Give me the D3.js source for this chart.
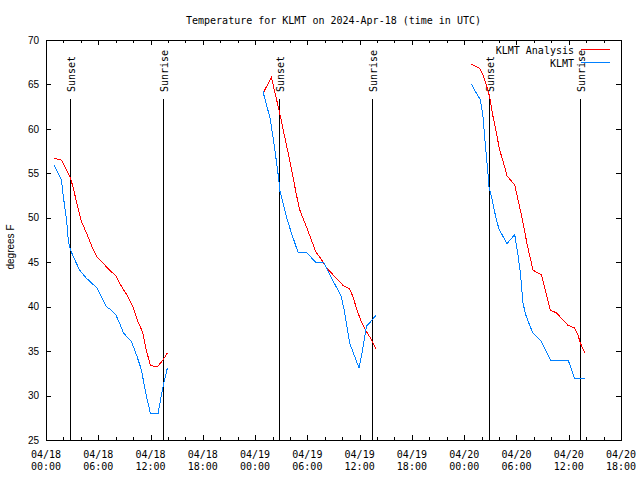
<!DOCTYPE html>
<html>
<head>
<meta charset="utf-8">
<script src="https://cdn.jsdelivr.net/npm/d3@7"></script>
<style>
  body { margin: 0; background: #fff; }
  svg { display: block; }
  .mono { font-family: "DejaVu Sans Mono", "Liberation Mono", monospace; font-size: 10px; }
  .sans { font-family: "Liberation Sans", Arial, sans-serif; font-size: 10px; }
</style>
</head>
<body>
<div id="container"></div>
<script>
var W = 640, H = 480,
    margin = {top: 40, right: 19, bottom: 40, left: 46},
    t0 = Date.UTC(2024, 3, 18, 0, 0),
    spanHours = 66;

/* observation times are hours after 2024-04-18 00:00 UTC, temps in F */
var analysisNight1 = [[0.88,56.7],[1.77,56.5],[2.75,54.6],[3.10,53.5],[3.45,52.0],[4.06,49.6],[4.64,48.3],
  [5.21,46.9],[5.85,45.6],[6.54,44.9],[7.31,44.1],[8.00,43.5],[8.65,42.3],[9.30,41.3],[9.99,40.0],
  [10.56,38.3],[11.07,37.2],[11.52,35.1],[11.98,33.4],[12.74,33.2],[13.43,34.0],[13.93,34.8]];
var obsNight1 = [[0.88,56.0],[1.77,54.3],[1.97,52.5],[2.26,50.5],[2.41,49.2],[2.57,47.3],[2.80,46.4],
  [3.29,45.3],[3.87,44.1],[4.64,43.2],[5.85,42.1],[6.36,41.1],[6.93,40.0],[7.51,39.6],[8.00,39.1],
  [8.46,38.1],[8.92,37.0],[9.80,36.1],[10.38,34.6],[10.95,32.9],[11.44,30.3],[11.98,28.0],
  [12.86,28.0],[13.43,31.0],[13.93,33.1]];
var analysisNight2 = [[24.91,64.0],[25.87,65.8],[26.82,61.8],[27.40,59.1],[27.97,56.5],[28.35,54.6],
  [28.74,52.6],[29.12,50.9],[29.89,49.0],[30.46,47.5],[30.96,46.2],[31.61,45.3],[32.25,44.3],
  [33.33,43.2],[34.09,42.4],[34.86,42.0],[35.24,41.1],[35.70,39.6],[36.20,38.3],[36.78,37.2],
  [37.35,36.3],[37.92,35.2]];
var obsNight2 = [[24.91,64.2],[25.30,62.7],[25.68,61.4],[26.06,59.1],[26.37,56.9],[26.71,54.4],
  [26.82,53.1],[27.13,52.0],[27.59,50.1],[28.17,48.3],[28.93,46.1],[29.89,46.1],[30.96,45.0],
  [31.87,45.0],[32.56,43.6],[33.33,42.2],[33.91,41.1],[34.29,39.3],[34.86,35.9],[35.43,34.4],
  [35.93,33.1],[36.20,34.4],[36.78,37.8],[37.35,38.4],[37.92,39.1]];
var analysisNight3 = [[48.83,67.3],[49.78,66.8],[50.16,66.1],[50.55,64.9],[50.93,63.6],[51.31,61.4],
  [51.70,59.5],[52.08,57.6],[52.54,56.1],[52.92,54.7],[53.80,53.7],[54.18,52.0],[54.68,49.8],
  [55.21,47.1],[55.60,45.4],[55.90,44.1],[56.86,43.6],[57.44,41.3],[57.90,39.6],[58.59,39.3],
  [59.34,38.5],[59.92,37.9],[60.68,37.6],[61.06,36.8],[61.34,35.9],[61.83,34.8]];
var obsNight3 = [[48.83,65.1],[49.40,64.0],[49.86,63.3],[50.16,61.4],[50.35,59.1],[50.55,56.9],
  [50.73,55.0],[50.85,53.5],[51.22,52.0],[51.62,50.1],[52.00,48.7],[52.46,47.9],[52.92,47.1],
  [53.80,48.1],[54.18,45.8],[54.45,43.8],[54.75,40.4],[55.06,39.1],[55.52,37.9],[55.90,37.0],
  [56.86,36.1],[57.44,34.9],[57.90,34.0],[59.92,34.0],[60.28,33.1],[60.68,31.9],[61.92,31.9]];

var sunsetHours = [2.77, 26.78, 50.85],
    sunriseHours = [13.45, 37.42, 61.35];
var yTicks = [25, 30, 35, 40, 45, 50, 55, 60, 65, 70];
var seriesNames = ['KLMT Analysis', 'KLMT'],
    seriesColors = ['#ff0000', '#0080ff'];

var toDate = h => new Date(t0 + h * 3600e3);

var svg = d3.select('#container').append('svg')
    .attr('width', W).attr('height', H);

var xScale = d3.scaleUtc()
    .domain([toDate(0), toDate(spanHours)])
    .range([margin.left, W - margin.right]);
var yScale = d3.scaleLinear()
    .domain([25, 70])
    .range([H - margin.bottom, margin.top]);

var x0 = margin.left, x1 = W - margin.right, y0 = margin.top, y1 = H - margin.bottom;

/* axes: ticks point inward, mirrored on top and right */
function cleanAxis(g) {
  g.select('.domain').remove();
  g.selectAll('line').attr('stroke', '#000').attr('shape-rendering', 'crispEdges');
}
svg.append('g').attr('transform', `translate(0,${y1})`)
  .call(d3.axisBottom(xScale).ticks(d3.utcHour.every(2)).tickSize(-3).tickFormat(''))
  .call(cleanAxis);
svg.append('g').attr('transform', `translate(0,${y1})`)
  .call(d3.axisBottom(xScale).ticks(d3.utcHour.every(6)).tickSize(-5).tickFormat(''))
  .call(cleanAxis);
svg.append('g').attr('transform', `translate(0,${y0})`)
  .call(d3.axisTop(xScale).ticks(d3.utcHour.every(2)).tickSize(-3).tickFormat(''))
  .call(cleanAxis);
svg.append('g').attr('transform', `translate(0,${y0})`)
  .call(d3.axisTop(xScale).ticks(d3.utcHour.every(6)).tickSize(-5).tickFormat(''))
  .call(cleanAxis);
svg.append('g').attr('transform', `translate(${x1},0)`)
  .call(d3.axisRight(yScale).tickValues(yTicks).tickSize(-5).tickFormat(''))
  .call(cleanAxis);
svg.append('g').attr('transform', `translate(${x0},0)`)
  .call(d3.axisLeft(yScale).tickValues(yTicks).tickSize(-5).tickPadding(7))
  .call(cleanAxis)
  .call(g => g.selectAll('text').attr('class', 'sans').attr('font-size', null)
    .attr('font-family', null).attr('fill', '#000'));

// two-line date labels under the x axis
var fmtDay = d3.utcFormat('%m/%d'), fmtTime = d3.utcFormat('%H:%M');
var xLabels = svg.append('g').classed('xlabels', true)
  .selectAll('text').data(xScale.ticks(d3.utcHour.every(6)))
  .enter().append('text')
    .attr('class', 'mono').attr('text-anchor', 'middle')
    .attr('x', d => xScale(d)).attr('y', y1 + 18);
xLabels.append('tspan').text(d => fmtDay(d));
xLabels.append('tspan').attr('x', d => xScale(d)).attr('dy', 12).text(d => fmtTime(d));

/* frame */
svg.append('rect')
  .attr('x', x0).attr('y', y0).attr('width', x1 - x0).attr('height', y1 - y0)
  .attr('fill', 'none').attr('stroke', '#000').attr('shape-rendering', 'crispEdges');

/* sunset / sunrise markers */
var sunEvents = sunsetHours.map(h => ({h: h, label: 'Sunset'}))
  .concat(sunriseHours.map(h => ({h: h, label: 'Sunrise'})));
var sunGroup = svg.append('g').classed('sunGroup', true);
sunGroup.selectAll('line').data(sunEvents).enter().append('line')
  .attr('x1', d => xScale(toDate(d.h))).attr('x2', d => xScale(toDate(d.h)))
  .attr('y1', 99).attr('y2', y1)
  .attr('stroke', '#000').attr('shape-rendering', 'crispEdges');
sunGroup.selectAll('text').data(sunEvents).enter().append('text')
  .attr('class', 'mono')
  .attr('transform', d => `translate(${xScale(toDate(d.h)) + 5},92) rotate(-90)`)
  .text(d => d.label);

/* temperature lines */
var line = d3.line()
  .x(d => xScale(toDate(d[0])))
  .y(d => yScale(d[1]));
var lineGroup = svg.append('g').classed('lineGroup', true);
[analysisNight1, analysisNight2, analysisNight3].forEach(s => {
  lineGroup.append('path').datum(s).attr('d', line)
    .attr('fill', 'none').attr('stroke', seriesColors[0]).attr('stroke-width', 1)
    .attr('shape-rendering', 'crispEdges');
});
[obsNight1, obsNight2, obsNight3].forEach(s => {
  lineGroup.append('path').datum(s).attr('d', line)
    .attr('fill', 'none').attr('stroke', seriesColors[1]).attr('stroke-width', 1)
    .attr('shape-rendering', 'crispEdges');
});

/* legend */
var legend = svg.append('g').classed('legend', true)
  .selectAll('g').data(seriesNames).enter().append('g')
  .attr('transform', (d, i) => `translate(0,${i * 13})`);
legend.append('text').attr('class', 'mono').attr('text-anchor', 'end')
  .attr('x', 574).attr('y', 54).text(d => d);
legend.append('line').attr('x1', 581).attr('x2', 610).attr('y1', 49).attr('y2', 49)
  .attr('stroke', (d, i) => seriesColors[i]).attr('shape-rendering', 'crispEdges');

/* title and y label */
svg.append('text').attr('class', 'mono').attr('text-anchor', 'middle')
  .attr('x', (x0 + x1) / 2).attr('y', 24)
  .text('Temperature for KLMT on 2024-Apr-18 (time in UTC)');
svg.append('text').attr('class', 'sans').attr('text-anchor', 'middle')
  .attr('transform', `translate(14,247) rotate(-90)`)
  .text('degrees F');
</script>
</body>
</html>
